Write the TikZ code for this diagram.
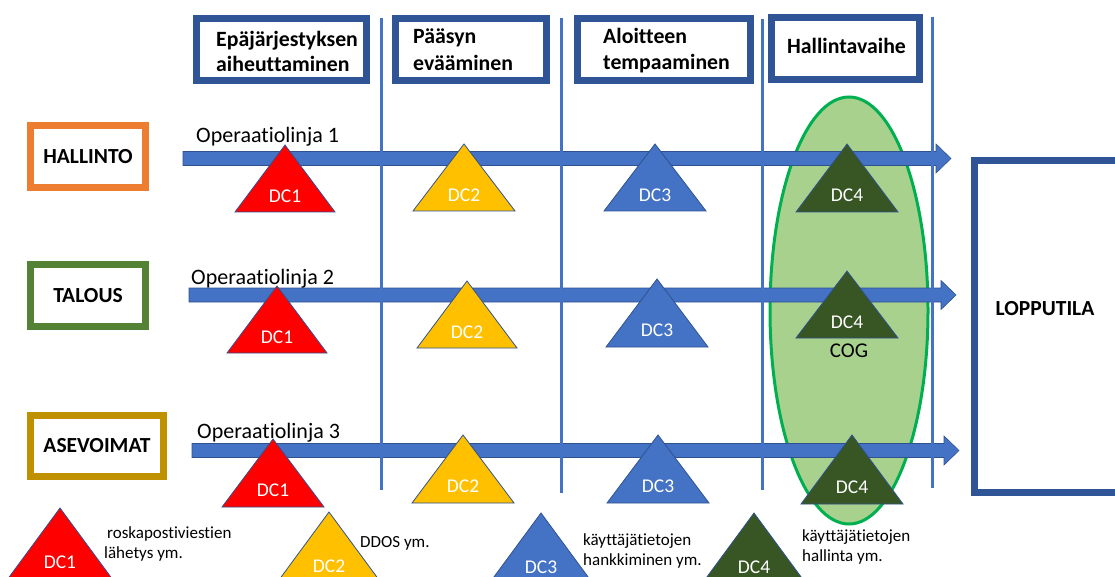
\documentclass[tikz,border=0pt]{standalone}
\usepackage{fontspec}
\setmainfont{Carlito}[Ligatures=NoCommon]
\definecolor{frameblue}{HTML}{2F5597}
\definecolor{lineblue}{HTML}{4472C4}
\definecolor{edgeblue}{HTML}{2F528F}
\definecolor{hallorange}{HTML}{ED7D31}
\definecolor{talgreen}{HTML}{548235}
\definecolor{asegold}{HTML}{BF9000}
\definecolor{dcred}{HTML}{FF0000}
\definecolor{dcyellow}{HTML}{FFC000}
\definecolor{dcblue}{HTML}{4472C4}
\definecolor{dcgreen}{HTML}{375623}
\definecolor{cogfill}{HTML}{A9D18E}
\definecolor{cogedge}{HTML}{00B050}

% triangle marker: name, apex x, apex y, height, half width, fill, label, label font size
\newcommand{\dctri}[8]{%
  \draw[triedge, fill=#6] (#2,#3) -- ++(-#5,#4) -- ++({2*#5},0) -- cycle;
  \node[dclabel, font=\fontsize{#8}{#8}\selectfont] (#1) at (#2,{#3+#4-0.24*#4}) {#7};
}
% block arrow: start x, centre y, shaft length
\newcommand{\oparrow}[3]{%
  \draw[oparrowstyle] (#1,#2) ++(0,-7) -- ++(#3,0) -- ++(0,-7.5) -- ++(15,14.5)
    -- ++(-15,14.5) -- ++(0,-7.5) -- ++(-#3,0) -- cycle;
}

\begin{document}
\begin{tikzpicture}[x=1pt,y=-1pt,
  phasebox/.style={draw=frameblue, line width=7pt},
  phasetext/.style={anchor=base west, inner sep=0pt, font=\fontsize{21.8}{25}\selectfont\bfseries},
  domainbox/.style={line width=7pt, fill=white, inner sep=0pt, font=\fontsize{21.5}{25}\selectfont\bfseries},
  divider/.style={draw=lineblue, line width=3pt},
  oparrowstyle/.style={fill=lineblue, draw=edgeblue, line width=0.6pt},
  oplabel/.style={anchor=base west, inner sep=0pt, font=\fontsize{22}{25}\selectfont},
  triedge/.style={draw=edgeblue, line width=0.8pt, line join=miter},
  dclabel/.style={text=white, inner sep=0pt},
  legendtext/.style={anchor=base west, inner sep=0pt, font=\fontsize{17}{20}\selectfont},
]
\useasboundingbox (0,0) rectangle (1115,577);
\clip (0,0) rectangle (1115,577);

% phase headers
\draw[phasebox] (196.5,18.5) rectangle (366.5,80.5);
\draw[phasebox] (395.5,18.5) rectangle (546.5,80.5);
\draw[phasebox] (577.5,18.5) rectangle (750.5,80.5);
\draw[phasebox] (771.5,17.5) rectangle (919.5,79.5);
\node[phasetext] (p1a) at (216,47) {Epäjärjestyksen};
\node[phasetext] (p1b) at (216,72) {aiheuttaminen};
\node[phasetext] (p2a) at (413,44) {Pääsyn};
\node[phasetext] (p2b) at (413,71) {evääminen};
\node[phasetext] (p3a) at (603,44) {Aloitteen};
\node[phasetext] (p3b) at (603,70) {tempaaminen};
\node[phasetext] (p4) at (787,54) {Hallintavaihe};

% centre of gravity
\draw[fill=cogfill, draw=cogedge, line width=3pt] (849,310.5) ellipse [x radius=79, y radius=213.5];

% domains
\node[domainbox, draw=hallorange, minimum width=115pt, minimum height=62pt] (hallinto) at (88,156.5) {HALLINTO};
\node[domainbox, draw=talgreen, minimum width=115pt, minimum height=62pt] (talous) at (88,295.5) {TALOUS};
\node[domainbox, draw=asegold, minimum width=133pt, minimum height=61pt] (asevoimat) at (97,446) {ASEVOIMAT};

% lines of operation
\oparrow{183}{158.5}{753}
\oparrow{189}{295}{752}
\oparrow{192}{450.5}{752}
\node[oplabel] (ol1) at (196,143) {Operaatiolinja 1};
\node[oplabel] (ol2) at (191,284) {Operaatiolinja 2};
\node[oplabel] (ol3) at (197,438) {Operaatiolinja 3};

% phase dividers
\draw[divider] (381.5,18) -- (381.5,490);
\draw[divider] (561,18) -- (561,493);
\draw[divider] (762,19) -- (762,490);
\draw[divider] (932,17) -- (932,488);

% decisive conditions on each line
\dctri{r1a}{285}{145}{67}{50}{dcred}{DC1}{19.5}
\dctri{r1b}{464}{144}{67}{51}{dcyellow}{DC2}{19.5}
\dctri{r1c}{655}{144}{67}{51}{dcblue}{DC3}{19.5}
\dctri{r1d}{847}{144}{68}{51}{dcgreen}{DC4}{19.5}
\dctri{r2a}{277}{286}{67}{50}{dcred}{DC1}{19.5}
\dctri{r2b}{467}{281}{67}{50}{dcyellow}{DC2}{19.5}
\dctri{r2c}{657}{279}{68}{51}{dcblue}{DC3}{19.5}
\dctri{r2d}{847}{271}{67}{51}{dcgreen}{DC4}{19.5}
\dctri{r3a}{273}{439}{68}{51}{dcred}{DC1}{19.5}
\dctri{r3b}{463}{435}{68}{51}{dcyellow}{DC2}{19.5}
\dctri{r3c}{658}{435}{68}{51}{dcblue}{DC3}{19.5}
\dctri{r3d}{852}{435}{69}{51}{dcgreen}{DC4}{19.5}
\node[font=\fontsize{21}{25}\selectfont, inner sep=0pt] (cog) at (849,351) {COG};

% end state
\draw[draw=frameblue, line width=7pt] (974.5,160.5) rectangle (1130,492.5);
\node[font=\fontsize{21.5}{25}\selectfont\bfseries, inner sep=0pt] (lopputila) at (1045,309) {LOPPUTILA};

% legend
\dctri{l1}{60}{508}{72}{53}{dcred}{DC1}{19.5}
\dctri{l2}{329}{512}{72}{53}{dcyellow}{DC2}{19.5}
\dctri{l3}{541}{513}{72}{53}{dcblue}{DC3}{19.5}
\dctri{l4}{754}{513}{72}{53}{dcgreen}{DC4}{19.5}
\node[legendtext] (t1a) at (107,538) {roskapostiviestien};
\node[legendtext] (t1b) at (104,558) {lähetys ym.};
\node[legendtext] (t2) at (360,547) {DDOS ym.};
\node[legendtext] (t3a) at (583,545) {käyttäjätietojen};
\node[legendtext] (t3b) at (583,565) {hankkiminen ym.};
\node[legendtext] (t4a) at (802,541) {käyttäjätietojen};
\node[legendtext] (t4b) at (802,561) {hallinta ym.};
\end{tikzpicture}
\end{document}
